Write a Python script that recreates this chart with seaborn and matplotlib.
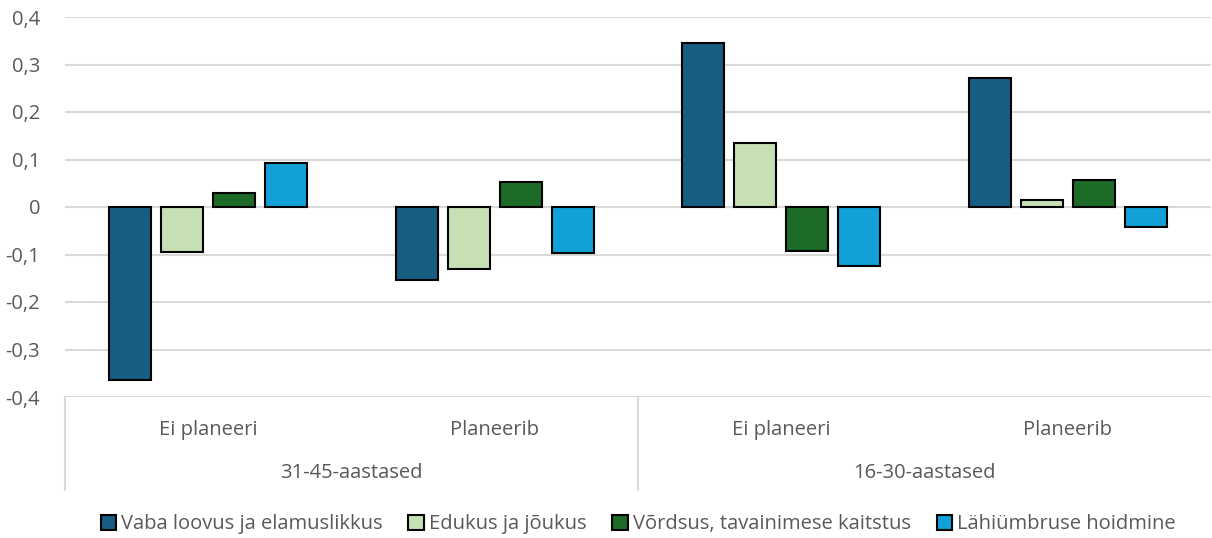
import pandas as pd
import numpy as np
import matplotlib.pyplot as plt
import seaborn as sns

sns.set_theme(style="white")
plt.rcParams["font.family"] = ["Open Sans", "DejaVu Sans"]

# data
age_groups = ["31-45-aastased", "16-30-aastased"]
plans = ["Ei planeeri", "Planeerib"]
series = ["Vaba loovus ja elamuslikkus", "Edukus ja jõukus",
          "Võrdsus, tavainimese kaitstus", "Lähiümbruse hoidmine"]
vaba = [-0.364, -0.154, 0.345, 0.272]
edukus = [-0.095, -0.131, 0.135, 0.015]
vordsus = [0.029, 0.053, -0.093, 0.057]
lahi = [0.093, -0.097, -0.124, -0.042]
colors = ["#175e82", "#c6e0b4", "#1d6b27", "#12a0d8"]
ytick_vals = [-0.4, -0.3, -0.2, -0.1, 0, 0.1, 0.2, 0.3, 0.4]
ytick_labels = ["-0,4", "-0,3", "-0,2", "-0,1", "0", "0,1", "0,2", "0,3", "0,4"]

cats = [f"{a}|{p}" for a in age_groups for p in plans]
rows = []
for name, vals in zip(series, [vaba, edukus, vordsus, lahi]):
    for c, v in zip(cats, vals):
        rows.append({"cat": c, "series": name, "value": v})
df = pd.DataFrame(rows)

fig = plt.figure(figsize=(12.12, 5.38), dpi=100)
ax = fig.add_axes([65 / 1212, 1 - 397 / 538, 1 - 66 / 1212, 380 / 538])

sns.barplot(data=df, x="cat", y="value", hue="series", order=cats,
            hue_order=series, palette=colors, saturation=1, width=0.725,
            gap=0.19, edgecolor="black", linewidth=1.5, ax=ax, zorder=3)

grey = "#595959"
ax.set_ylim(-0.4, 0.4)
ax.set_xlim(-0.5, 3.5)
ax.set_yticks(ytick_vals)
ax.set_yticklabels(ytick_labels)
ax.tick_params(axis="y", length=0, pad=18, labelsize=14.5, labelcolor=grey)
ax.set_xticks([])
ax.set_xlabel("")
ax.set_ylabel("")
for s in ax.spines.values():
    s.set_visible(False)
for y in ytick_vals:
    ax.axhline(y, color="#d9d9d9", lw=1.5, zorder=1)

# two-level category axis
trans = ax.get_xaxis_transform()
for i, c in enumerate(cats):
    ax.text(i, -0.088, c.split("|")[1], transform=trans, ha="center", va="center",
            fontsize=14.5, color=grey)
for j, a in enumerate(age_groups):
    ax.text(2 * j + 0.5, -0.2, a, transform=trans, ha="center", va="center",
            fontsize=14.5, color=grey)
for x in [-0.5, 1.5]:
    ax.plot([x, x], [0, -0.245], transform=trans, color="#d9d9d9", lw=1.5,
            clip_on=False)

ax.legend(loc="center", bbox_to_anchor=(0.5, -0.335), ncol=4, frameon=False,
          fontsize=14.5, handlelength=0.75, handleheight=0.75, handletextpad=0.25,
          columnspacing=1.3, labelcolor=grey)

fig.savefig("out.png", dpi=100)
